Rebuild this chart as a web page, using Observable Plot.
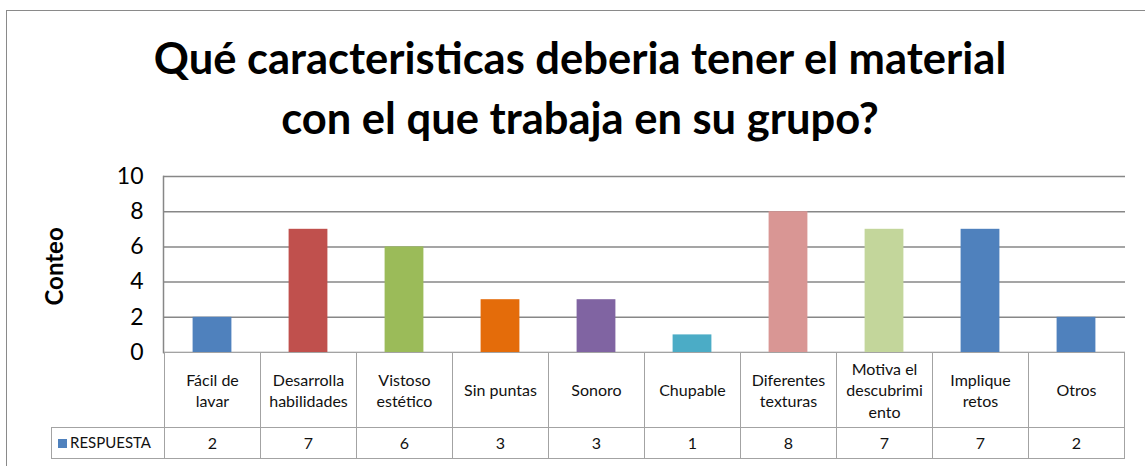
<!DOCTYPE html>
<html>
<head>
<meta charset="utf-8">
<script src="https://cdn.jsdelivr.net/npm/d3@7"></script>
<script src="https://cdn.jsdelivr.net/npm/@observablehq/plot@0.6"></script>
<style>
  html, body { margin: 0; padding: 0; background: #fff; }
  #wrap { position: relative; width: 1145px; height: 466px; overflow: hidden; font-family: Lato, "Open Sans", sans-serif; }
  #frame { position: absolute; left: 6px; top: 10px; width: 1300px; height: 600px; border: 1.5px solid #8a8a8a; box-sizing: border-box; pointer-events: none; z-index: 5; }
  #title { position: absolute; left: 0; top: 27px; width: 1160px; text-align: center; font-weight: 700; font-size: 43.5px; line-height: 60px; color: #000; z-index: 3; }
  #chart { position: absolute; left: 0; top: 0; }
  .cell { position: absolute; box-sizing: border-box; border: 1.5px solid #a3a3a3; display: flex; align-items: center; justify-content: center; text-align: center; font-size: 16px; line-height: 21.5px; color: #111; background: #fff; z-index: 2; }
</style>
</head>
<body>
<div id="wrap">
  <div id="frame"></div>
  <div id="title">Qué caracteristicas deberia tener el material<br>con el que trabaja en su grupo?</div>
  <div id="chart"></div>
</div>
<script>
const categories = ["Fácil de lavar", "Desarrolla habilidades", "Vistoso estético", "Sin puntas", "Sonoro", "Chupable", "Diferentes texturas", "Motiva el descubrimiento", "Implique retos", "Otros"];
const categoryLabels = ["Fácil de\nlavar", "Desarrolla\nhabilidades", "Vistoso\nestético", "Sin puntas", "Sonoro", "Chupable", "Diferentes\ntexturas", "Motiva el\ndescubrimi\nento", "Implique\nretos", "Otros"];
const values = [2, 7, 6, 3, 3, 1, 8, 7, 7, 2];
const colors = ["#4F81BD", "#C0504D", "#9BBB59", "#E46C0A", "#8064A2", "#4BACC6", "#D99694", "#C3D69B", "#4F81BD", "#4F81BD"];
const yTicks = [0, 2, 4, 6, 8, 10];
const seriesName = "RESPUESTA";
const yLabel = "Conteo";

const data = categories.map((c, i) => ({cat: c, value: values[i], color: colors[i]}));

const W = 1145, H = 466;
const plot = Plot.plot({
  width: W, height: H,
  marginTop: 176, marginBottom: 114, marginLeft: 163, marginRight: 20,
  style: {background: "transparent", fontFamily: "Lato, 'Open Sans', sans-serif", color: "#000"},
  x: {domain: categories, padding: 0, axis: null},
  y: {domain: [0, 10], axis: null},
  marks: [
    Plot.ruleY(yTicks, {stroke: "#878787", strokeWidth: 1.5}),
    Plot.frame({anchor: "left", stroke: "#878787", strokeWidth: 1.5}),
    Plot.barY(data, {x: "cat", y: "value", fill: "color", insetLeft: 28.6, insetRight: 28.6}),
    Plot.axisY({ticks: yTicks, tickSize: 0, tickPadding: 20, fontSize: 23, label: null, tickFormat: d => String(d)}),
    Plot.text([yLabel], {frameAnchor: "left", rotate: -90, dx: -108, dy: 41, fontWeight: "bold", fontSize: 24})
  ]
});
document.getElementById("chart").appendChild(plot);

// data table below the plot, positioned with the plot's own x scale
const xs = plot.scale("x");
const wrap = document.getElementById("wrap");
const bw = xs.bandwidth;
const rowTop = 352, rowH = 75, valH = 31;
function cell(left, top, width, height, html) {
  const d = document.createElement("div");
  d.className = "cell";
  d.style.left = left + "px"; d.style.top = top + "px";
  d.style.width = (width + 1) + "px"; d.style.height = (height + 1) + "px";
  d.innerHTML = html;
  wrap.appendChild(d);
  return d;
}
categories.forEach((c, i) => {
  const x0 = xs.apply(c);
  cell(x0, rowTop, bw, rowH, categoryLabels[i].split("\n").join("<br>"));
  cell(x0, rowTop + rowH, bw, valH, String(values[i]));
});
const leg = cell(51, rowTop + rowH, xs.apply(categories[0]) - 51, valH,
  `<span style="display:inline-block;width:9px;height:9px;background:${colors[0]};margin-right:3px"></span>${seriesName}`);
leg.style.justifyContent = "flex-start";
leg.style.paddingLeft = "6px";
leg.style.fontSize = "15px";
</script>
</body>
</html>
